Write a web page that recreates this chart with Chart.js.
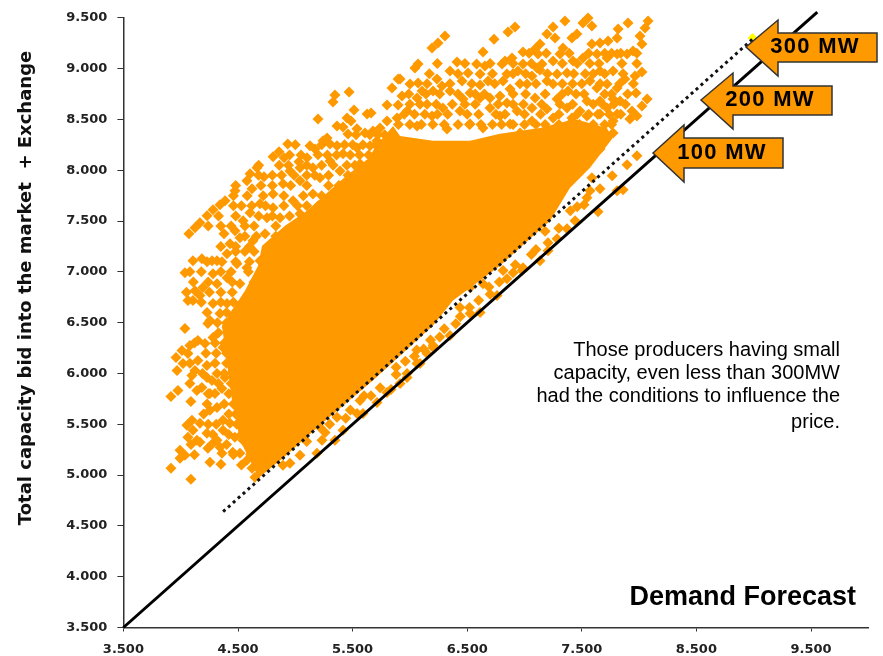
<!DOCTYPE html>
<html>
<head>
<meta charset="utf-8">
<title>Demand Forecast</title>
<script src="https://cdn.jsdelivr.net/npm/chart.js@4"></script>
<style>
html, body { margin: 0; padding: 0; background: #fff; }
#wrap { position: relative; width: 883px; height: 656px; }
</style>
</head>
<body>
<div id="wrap"><canvas id="scatterChart"></canvas></div>
<script>
// Values: [demand forecast, capacity bid]
const xTickValues = [3500, 4500, 5500, 6500, 7500, 8500, 9500];
const yTickValues = [3500, 4000, 4500, 5000, 5500, 6000, 6500, 7000, 7500, 8000, 8500, 9000, 9500];

const upperLeftPoints = [[5346,8741],[5329,8672],[5469,8770],[5198,8505],[5512,8593],[5451,8514],[5486,8485],[5626,8554],[5661,8564],[5800,8642],[5844,8809],[5897,8897],[5897,8642],[5364,8436],[5416,8426],[5538,8407],[5460,8357],[5530,8348],[5608,8367],[5277,8318],[5242,8289],[5303,8259],[5364,8240],[4934,8259],[5128,8240],[5172,8210],[5198,8152],[4858,8181],[4806,8132],[4902,8122],[5102,8122],[5032,8083],[4666,8024],[4605,7965],[4578,7896],[4622,7817],[4474,7798],[4727,7935],[4387,7700],[4343,7660],[4282,7611],[4230,7552],[4168,7484],[4125,7434],[4072,7375],[4953,7993],[5041,8024],[5154,8024],[5303,8092],[5416,8161],[5538,8220],[5652,8240],[4806,7767],[4893,7866],[5041,7896],[5215,7925],[5390,7993],[5565,8063],[5713,8289],[4692,7670],[4806,7631],[4980,7700],[5154,7767],[5303,7700],[5503,7797],[4605,7581],[4867,7532],[5041,7571],[5277,7631],[4544,7503],[4753,7532],[5739,8416],[5888,8514],[5678,8387],[5800,8485]];

const topPoints = [[6306,9320],[6245,9251],[6193,9202],[6734,9290],[6917,9409],[6856,9360],[7353,9468],[7554,9498],[7510,9449],[7588,9419],[7457,9340],[7414,9300],[7249,9409],[7196,9340],[7266,9300],[7135,9241],[7092,9192],[7118,9143],[6987,9163],[6891,9104],[6830,9075],[6638,9163],[6411,9065],[6071,9045],[6044,9006],[7903,9449],[8078,9468],[8052,9400],[7817,9389],[7808,9300],[8008,9320],[7659,9251],[7729,9271],[7588,9241],[7336,9202],[7310,9143],[7249,9075],[7510,9104],[7423,9075],[7632,9143],[7720,9104],[7808,9143],[8025,9241],[7947,9173],[7895,9143],[6987,9045],[6943,8976],[7109,9006],[7152,9045],[7135,8986],[6582,9045],[6655,9026],[6804,9045],[6507,8957],[6350,8976],[6612,8947],[6847,8947],[7065,8927],[6236,8897],[6455,8878],[6612,8839],[6682,8878],[6813,8878],[6071,8859],[6001,8849],[6202,8780],[6280,8829],[5914,8897],[6106,8780],[7022,8849],[6874,8800],[6062,8711],[5931,8731],[6525,8760],[6699,8711],[6847,8662],[6786,8731],[7092,8711],[7284,8701],[7380,8780],[7196,8878],[7284,8947],[7371,8957],[7249,8849],[7571,8878],[7659,8976],[7773,8976],[7720,8849],[7632,8809],[7808,8809],[7876,8897],[7964,8927],[8025,8967],[7973,8760],[8070,8701],[8025,8632],[7938,8583],[7920,8505],[7981,8534],[7659,8682],[7773,8701],[7545,8682],[7371,8613],[7484,8583],[7720,8613],[7834,8682],[7808,8554],[7659,8554],[7065,8613],[6935,8583],[7196,8603],[7249,8514],[7065,8485],[6786,8534],[6612,8711],[6437,8583],[6324,8406],[6525,8456],[6638,8416],[6874,8456],[6961,8367],[6193,8534],[6088,8650],[6288,8613],[5975,8583],[6062,8436],[7545,8534],[7414,8514],[6699,8613],[6464,8701],[6350,8780],[7773,8485],[7659,8210],[7773,8367]];

const leftPoints = [[4378,7375],[4107,7110],[4185,7130],[4037,6992],[4273,7110],[4317,7110],[4125,6815],[4063,6717],[4168,6766],[4037,6442],[4237,6491],[4150,6324],[4080,6275],[4011,6226],[3959,6157],[4063,6196],[3968,6029],[4098,5980],[4185,5862],[4273,5931],[3976,5833],[3915,5774],[4089,5725],[4255,5804],[4098,5539],[4054,5490],[4063,5372],[4141,5342],[3994,5244],[4037,5195],[3994,5165],[4237,5264],[4360,5215],[4255,5126],[4351,5106],[3915,5067],[4089,4959],[4455,5224],[4622,5067],[4648,4978],[4474,7405],[4517,7336],[4430,7277],[4404,7178],[4491,7080],[4578,7041],[4692,7110],[4631,7306],[4736,7375],[4282,6982],[4404,6943],[4517,6884],[4317,6884],[4194,6845],[4107,6717],[4282,6688],[4404,6688],[4605,6747],[4491,6619],[4343,6589],[4255,6520],[4404,6452],[4282,6354],[4212,6295],[4369,6255],[4150,6127],[4020,6098],[4229,6078],[4124,6029],[4317,6000],[4229,5961],[4386,5961],[4141,5833],[4299,5804],[4360,5852],[4317,5666],[4255,5637],[4369,5539],[4168,5509],[4229,5411],[4107,5441],[4168,5322],[4369,5441],[4430,5509],[4317,5342],[4473,5372],[4543,5342],[4343,5273],[4517,5214],[4578,5146],[4692,5146],[4753,5214]];

const lineSidePoints = [[5041,5195],[5233,5342],[5189,5214],[5346,5342],[5416,5441],[5539,5607],[5591,5607],[5713,5715],[5800,5813],[5835,5843],[4892,5097],[4953,5117],[5215,5470],[5364,5568],[5565,5735],[5975,5961],[6062,6098],[6149,6196],[6202,6275],[5914,5901],[5975,6000],[6088,6098],[6202,6255],[6350,6373],[6525,6589],[6612,6599],[6760,6766],[6847,6933],[6978,7012],[7135,7110],[7205,7287],[7371,7424],[7441,7503],[7642,7592],[7588,7925],[7659,7817],[7545,7729],[7808,7797],[7860,7807],[7765,7945],[7895,8053],[7981,8142],[6525,6845],[6638,6884],[6437,6648],[6813,7012],[6987,7041],[7205,7208],[7284,7326],[7571,7797],[5100,5330],[5260,5420],[5300,5500],[5440,5560],[5480,5640],[5600,5780],[5660,5780],[5740,5860],[5880,5990],[5880,6060],[5960,6120],[6040,6170],[6060,6230],[6120,6240],[6180,6330],[6260,6360],[6300,6440],[6400,6490],[6440,6560],[6520,6650],[6600,6720],[6690,6850],[6700,6780],[6780,6900],[6900,6990],[6920,7070],[7060,7170],[7100,7220],[7180,7400],[7300,7430],[7400,7600],[7460,7640],[7520,7660]];

// Thicker parts of the cloud, read row by row: [capacity, [demand, demand, ...]]
const topRows = [
    [8450, [5900,6000,6100,6200,6300,6420,6520,6620,6720,6800,6900,7000,7100,7180,7300,7390,7480,7600,7700,7760]],
    [8550, [5950,6040,6130,6240,6330,6500,6600,6750,6830,7000,7140,7300,7460,7560,7640,7740,7840]],
    [8650, [6000,6150,6230,6370,6480,6570,6770,6900,6990,7150,7310,7420,7600,7680,7780,7880]],
    [8750, [5990,6140,6260,6420,6570,6650,6900,7010,7180,7330,7450,7520,7700,7760,7900]],
    [8850, [6150,6350,6540,6740,6960,7100,7330,7420,7500,7660,7830,7950]],
    [8950, [6170,6420,6720,6900,7010,7200,7430,7530,7600,7700,7860]],
    [9050, [6240,6480,6700,6900,7060,7330,7460,7570,7650,7850,7980]],
    [9150, [7040,7190,7390,7560,7700,7760,7840,7980]]
];
const upperLeftRows = [
    [8350, [5650,5720,5780]],
    [8250, [5000,5230,5430,5500,5590,5700]],
    [8150, [4950,5050,5280,5360,5480,5560,5640,5710]],
    [8050, [4680,4860,4940,5100,5230,5330,5450,5520,5620,5700]],
    [7950, [4680,4800,4880,4990,5100,5170,5290,5460,5540,5630]],
    [7850, [4480,4700,4800,4960,5100,5290,5380,5470,5550]],
    [7750, [4460,4580,4720,4900,5070,5230,5380,5580]],
    [7650, [4460,4530,4620,4740,4900,5020,5100,5200,5400]],
    [7550, [4330,4480,4680,4800,4950,5120,5200,5350]],
    [7450, [4240,4350,4440,4560,4640,4830]],
    [7350, [4560,4660,4830]],
    [7250, [4350,4480,4600]]
];
const leftRows = [
    [7200, [4480,4560,4640]],
    [7100, [4230,4360,4480,4600]],
    [7000, [4080,4180,4350,4440,4590]],
    [6900, [4110,4240,4450,4640]],
    [6800, [4050,4250,4350,4450]],
    [6700, [4180,4350,4460,4560]],
    [6600, [4230,4400,4520]],
    [6500, [4320,4400]],
    [6400, [4330]],
    [6300, [4120,4300,4380]],
    [6200, [4220,4310,4400]],
    [6100, [4080,4300,4400]],
    [6000, [4190,4380,4450]],
    [5900, [4080,4330,4440]],
    [5800, [4240,4420]],
    [5700, [4230,4380,4460]],
    [5600, [4200,4420,4480]],
    [5500, [4240,4310,4490,4540]],
    [5400, [4280,4420,4530,4600]],
    [5300, [4090,4270,4400,4590,4650]],
    [5200, [4120,4460,4610]],
    [5100, [4530,4700]]
];

// The middle of the cloud is solid orange in the picture, single points cannot be told apart.
// It is drawn as a filled band between these two outlines.
const coreUpper = [[4360,6472],[4561,6815],[4675,7060],[4710,7257],[4910,7453],[5102,7600],[5300,7800],[5451,7950],[5626,8100],[5713,8250],[5853,8436],[5914,8338],[6202,8289],[6525,8289],[6786,8358],[7135,8416],[7440,8505],[7718,8416],[7770,8318]];
const coreLower = [[4360,6472],[4448,5735],[4517,5342],[4648,5047],[4675,4969],[4892,5166],[5215,5490],[5677,5931],[6202,6472],[6376,6717],[6786,7060],[7223,7503],[7396,7826],[7570,8023],[7770,8318]];

const fullLine = [[3500,3500],[9555,9555]];      // capacity = demand
const mw300Line = [[4370,4640],[9000,9300]];
const yellowPoint = [[8990,9300]];

const orange = '#ff9900';
const toXY = pts => pts.map(p => ({ x: p[0], y: p[1] }));
const fromRows = rows => rows.flatMap(r => r[1].map(x => [x, r[0]]));
const cloud = upperLeftPoints.concat(topPoints, leftPoints, lineSidePoints, fromRows(topRows), fromRows(upperLeftRows), fromRows(leftRows));

// Arrow callouts, in canvas pixels
const callouts = [
    { label: '300 MW', tip: 746, tipY: 47, head: 778, right: 877, top: 20, sTop: 33, sBot: 62, bot: 76, textX: 815 },
    { label: '200 MW', tip: 701, tipY: 100, head: 733, right: 832, top: 73, sTop: 86, sBot: 115, bot: 129, textX: 770 },
    { label: '100 MW', tip: 653, tipY: 153, head: 684, right: 783, top: 125, sTop: 138, sBot: 168, bot: 182, textX: 722 }
];
const noteLines = [
    ['Those producers having small', 350],
    ['capacity, even less than 300MW', 373],
    ['had the conditions to influence the', 396],
    ['price.', 422]
];

const annotations = {
    id: 'annotations',
    afterDraw(chart) {
        const ctx = chart.ctx;
        ctx.save();
        ctx.textBaseline = 'middle';

        callouts.forEach(c => {
            ctx.beginPath();
            ctx.moveTo(c.tip, c.tipY);
            ctx.lineTo(c.head, c.top);
            ctx.lineTo(c.head, c.sTop);
            ctx.lineTo(c.right, c.sTop);
            ctx.lineTo(c.right, c.sBot);
            ctx.lineTo(c.head, c.sBot);
            ctx.lineTo(c.head, c.bot);
            ctx.closePath();
            ctx.fillStyle = orange;
            ctx.fill();
            ctx.strokeStyle = '#333';
            ctx.lineWidth = 1.5;
            ctx.stroke();
            ctx.fillStyle = '#000';
            ctx.font = "bold 22px 'Liberation Sans'";
            ctx.letterSpacing = '1.3px';
            ctx.textAlign = 'center';
            ctx.fillText(c.label, c.textX, c.tipY);
        });
        ctx.letterSpacing = '0px';

        ctx.fillStyle = '#000';
        ctx.textAlign = 'right';
        ctx.font = "20px 'Liberation Sans'";
        noteLines.forEach(l => ctx.fillText(l[0], 840, l[1]));

        ctx.font = "bold 27px 'Liberation Sans'";
        ctx.fillText('Demand Forecast', 856, 598);

        // y axis title sits above the middle of the axis, so it is placed by hand
        ctx.translate(26, 288);
        ctx.rotate(-Math.PI / 2);
        ctx.textAlign = 'center';
        ctx.font = "bold 18px 'DejaVu Sans'";
        ctx.fillStyle = '#111';
        ctx.fillText('Total capacity bid into the market  + Exchange', 0, 0);
        ctx.restore();
    }
};

const tickLabel = v => (v / 1000).toFixed(3);
const tickFont = { family: "'DejaVu Sans'", size: 13, weight: 'bold' };

new Chart(document.getElementById('scatterChart'), {
    type: 'scatter',
    data: {
        datasets: [
            { label: '300 MW', data: toXY(mw300Line), showLine: true, borderColor: '#111', borderWidth: 3, borderDash: [3, 3.6], pointRadius: 0, clip: false, order: 1 },
            { label: 'capacity = demand', data: toXY(fullLine), showLine: true, borderColor: '#000', borderWidth: 3, pointRadius: 0, clip: false, order: 2 },
            { label: 'bids', data: toXY(cloud), backgroundColor: orange, borderWidth: 0, pointStyle: 'rectRot', pointRadius: 5.5, clip: false, order: 3 },
            { label: 'core upper', data: toXY(coreUpper), showLine: true, borderWidth: 0, borderColor: orange, backgroundColor: orange, pointRadius: 0, fill: '+1', order: 4 },
            { label: 'core lower', data: toXY(coreLower), showLine: true, borderWidth: 0, borderColor: orange, pointRadius: 0, order: 5 },
            { label: 'marker', data: toXY(yellowPoint), backgroundColor: '#ffff00', borderWidth: 0, pointStyle: 'rectRot', pointRadius: 5, clip: false, order: 6 }
        ]
    },
    options: {
        responsive: true,
        maintainAspectRatio: false,
        animation: false,
        layout: { padding: { top: 16.7, right: 14.7, left: 0, bottom: 0 } },
        plugins: { legend: { display: false }, tooltip: { enabled: false } },
        scales: {
            x: {
                type: 'linear',
                min: 3500,
                max: 10000,
                afterFit: s => { s.height = 28.5; },
                afterBuildTicks: s => { s.ticks = xTickValues.map(v => ({ value: v })); },
                border: { color: '#333', width: 1.5 },
                grid: { drawOnChartArea: false, color: '#333', tickLength: 4 },
                ticks: { color: '#222', font: tickFont, padding: 10, maxRotation: 0, callback: tickLabel }
            },
            y: {
                type: 'linear',
                min: 3500,
                max: 9500,
                afterFit: s => { s.width = 123.4; },
                afterBuildTicks: s => { s.ticks = yTickValues.map(v => ({ value: v })); },
                border: { color: '#333', width: 1.5 },
                grid: { drawOnChartArea: false, color: '#333', tickLength: 6 },
                ticks: { color: '#222', font: tickFont, padding: 10, callback: tickLabel }
            }
        }
    },
    plugins: [annotations]
});
</script>
</body>
</html>
